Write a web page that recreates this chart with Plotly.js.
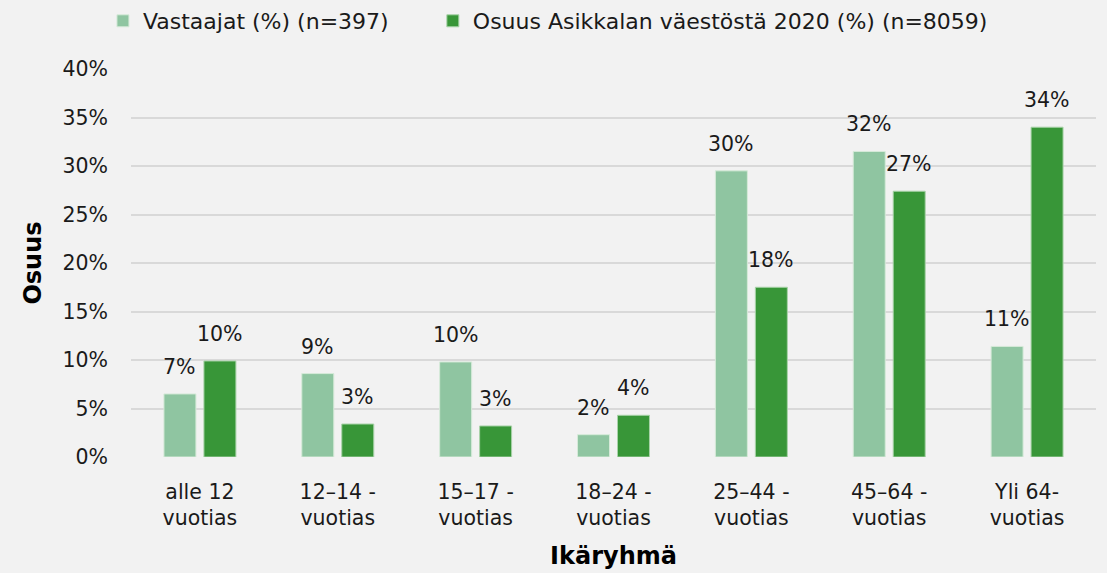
<!DOCTYPE html>
<html><head><meta charset="utf-8">
<script src="https://cdn.plot.ly/plotly-3.0.1.min.js"></script>
<style>html,body{margin:0;padding:0;background:#f2f2f2;}</style>
</head><body>
<div id="chart" style="width:1107px;height:573px;"></div>
<script>
const categories = ["alle 12<br>vuotias", "12–14 -<br>vuotias", "15–17 -<br>vuotias", "18–24 -<br>vuotias", "25–44 -<br>vuotias", "45–64 -<br>vuotias", "Yli 64-<br>vuotias"];
const respondents = [6.5, 8.6, 9.8, 2.3, 29.5, 31.5, 11.4];
const population = [9.9, 3.4, 3.2, 4.3, 17.5, 27.4, 34.0];
const seriesNames = ["Vastaajat (%) (n=397)", "Osuus Asikkalan väestöstä 2020 (%) (n=8059)"];
const yTicks = [0, 5, 10, 15, 20, 25, 30, 35, 40];

const FONT = "'DejaVu Sans', sans-serif";
const lightC = "#8fc5a1", darkC = "#389638";

const traces = [
  {type: "bar", name: seriesNames[0], x: categories, y: respondents, legend: "legend",
   marker: {color: lightC, line: {color: "#d6ead9", width: 1}}, hoverinfo: "none"},
  {type: "bar", name: seriesNames[1], x: categories, y: population, legend: "legend2",
   marker: {color: darkC, line: {color: "#a9d3a9", width: 1}}, hoverinfo: "none"}
];

const annotations = [];
[respondents, population].forEach((arr, si) => {
  arr.forEach((v, i) => {
    annotations.push({x: categories[i], y: v, xref: "x", yref: "y",
      text: Math.round(v) + "%", showarrow: false, yanchor: "bottom",
      xshift: si === 0 ? -20 : 20, yshift: 13,
      font: {family: FONT, size: 20.5, color: "#1a1a1a"}});
  });
});

const legendBase = {orientation: "h", xref: "container", y: 1, yref: "container", yanchor: "top",
  font: {family: FONT, size: 22, color: "#1a1a1a"}, itemwidth: 30, bgcolor: "rgba(0,0,0,0)"};

const layout = {
  width: 1107, height: 573,
  paper_bgcolor: "#f2f2f2", plot_bgcolor: "#f2f2f2",
  margin: {l: 131, r: 11, t: 69, b: 116},
  barmode: "group", bargap: 0.42, bargroupgap: 0.2,
  font: {family: FONT, size: 20, color: "#1a1a1a"},
  showlegend: true,
  legend: Object.assign({}, legendBase, {x: 0.093}),
  legend2: Object.assign({}, legendBase, {x: 0.391}),
  xaxis: {type: "category", showgrid: false, zeroline: false, showline: false, ticks: "",
    tickfont: {family: FONT, size: 20.5, color: "#1a1a1a"}, ticklabelstandoff: 20,
    title: {text: "Ikäryhmä", font: {family: FONT, size: 24, color: "#000", weight: "bold"}, standoff: 18}},
  yaxis: {range: [0, 40], tickvals: yTicks, ticktext: yTicks.map(t => t + "%"),
    showgrid: true, gridcolor: "#d9d9d9", gridwidth: 2, zeroline: false, showline: false,
    tickfont: {family: FONT, size: 20.5, color: "#1a1a1a"}, ticklabelstandoff: 22,
    title: {text: "Osuus", font: {family: FONT, size: 24, color: "#000", weight: "bold"}, standoff: 14}},
  annotations: annotations
};

Plotly.newPlot("chart", traces, layout, {displayModeBar: false, staticPlot: true});
</script>
</body></html>
